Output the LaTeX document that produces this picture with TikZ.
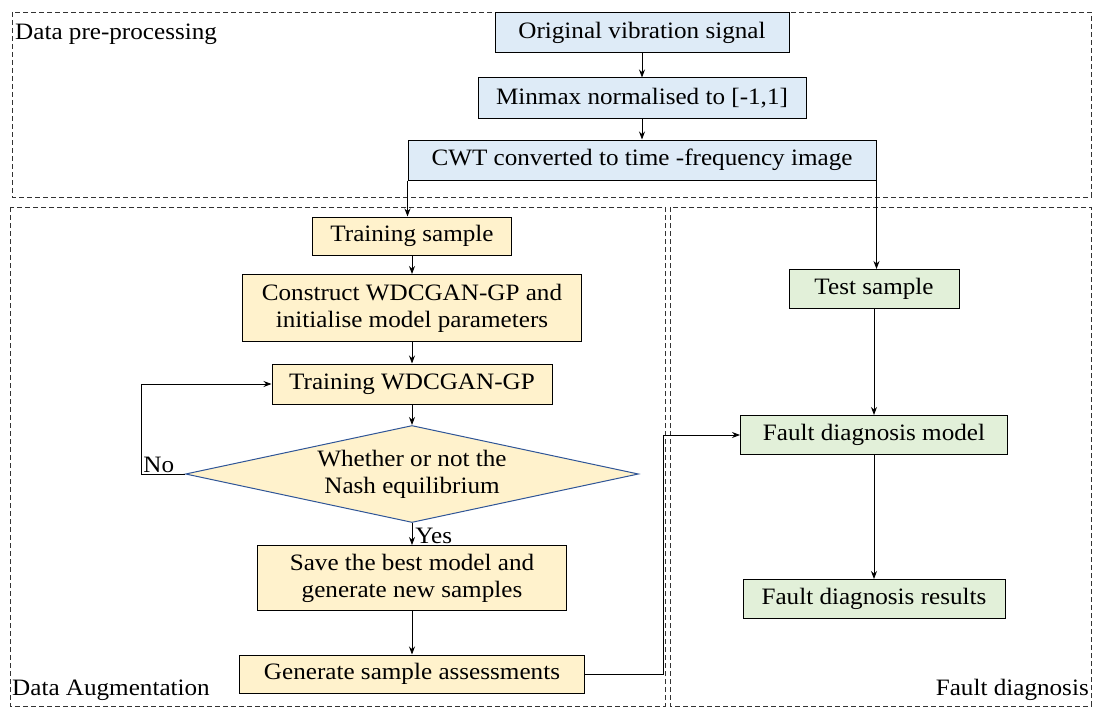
\documentclass[tikz,border=0pt]{standalone}
\usepackage{fontspec}
\setmainfont[FakeStretch=1.07]{Liberation Serif}
\usepackage{tikz}
\usetikzlibrary{positioning, shapes.geometric, calc, arrows.meta}
\definecolor{boxblue}{RGB}{222,235,247}
\definecolor{boxyellow}{RGB}{255,242,204}
\definecolor{boxgreen}{RGB}{226,240,217}
\definecolor{edgeblue}{RGB}{47,85,151}
\tikzstyle{blueproc} = [rectangle, minimum height=40pt, text centered, draw=black, fill=boxblue, line width=1pt]
\tikzstyle{yelproc} = [rectangle, minimum height=40pt, text centered, draw=black, fill=boxyellow, line width=1pt, align=center]
\tikzstyle{greenproc} = [rectangle, minimum height=39pt, text centered, draw=black, fill=boxgreen, line width=1pt]
\tikzstyle{decision} = [diamond, aspect=4.67, inner sep=0pt, text centered, draw=edgeblue, fill=boxyellow, line width=1pt, align=center]
\tikzstyle{region} = [draw=black!80, line width=0.9pt, dash pattern=on 5pt off 3pt]
\tikzstyle{arrow} = [-{Stealth[length=8pt,width=6pt]}, line width=0.9pt]
\tikzstyle{every node}=[font=\fontsize{23.5}{27}\selectfont, inner sep=4pt]

\begin{document}
\begin{tikzpicture}[x=1pt, y=-1pt, node distance=64pt]
  \useasboundingbox (0,0) rectangle (1093,709);
  % regions
  \draw [region] (12,12) rectangle (1091,197);
  \draw [region] (10,207) rectangle (665,706);
  \draw [region] (670,207) rectangle (1091,706);
  \node (lblpre) [anchor=west] at (11,34) {Data pre-processing};
  \node (lblaug) [anchor=west] at (8,690) {Data Augmentation};
  \node (lblfault) [anchor=east] at (1093,690) {Fault diagnosis};

  % pre-processing
  \node (orig) [blueproc, minimum width=294pt] at (642,33) {Original vibration signal};
  \node (minmax) [blueproc, below of=orig, yshift=-1pt, minimum width=328pt] {Minmax normalised to [-1,1]};
  \node (cwt) [blueproc, below of=minmax, yshift=2pt, minimum width=468pt] {CWT converted to time -frequency image};

  % augmentation
  \node (train) [yelproc, minimum width=199pt, minimum height=38pt] at (412,236) {Training sample};
  \node (build) [yelproc, below of=train, yshift=-8pt, minimum width=339pt, minimum height=67pt] {Construct WDCGAN-GP and\\initialise model parameters};
  \node (gan) [yelproc, below of=build, yshift=-12pt, minimum width=280pt] {Training WDCGAN-GP};
  \node (nash) [decision, below of=gan, yshift=-26pt, minimum width=453pt, minimum height=97pt] {Whether or not the\\Nash equilibrium};
  \node (save) [yelproc, below of=nash, yshift=-40pt, minimum width=309pt, minimum height=65pt] {Save the best model and\\generate new samples};
  \node (gen) [yelproc, below of=save, yshift=-32pt, minimum width=345pt, minimum height=38pt] {Generate sample assessments};

  % fault diagnosis
  \node (test) [greenproc, minimum width=170pt] at (874,289) {Test sample};
  \node (model) [greenproc, minimum width=267pt] at (874,435) {Fault diagnosis model};
  \node (result) [greenproc, minimum width=262pt] at (874,599) {Fault diagnosis results};

  % connections
  \draw [arrow](orig) -- (minmax);
  \draw [arrow](minmax) -- (cwt);
  \draw [arrow](cwt.south west) -- (cwt.south west |- train.north);
  \draw [arrow](cwt.south east) -- (cwt.south east |- test.north);

  \draw [arrow](train) -- (build);
  \draw [arrow](build) -- (gan);
  \draw [arrow](gan) -- (nash);
  \draw [arrow](nash) -- node[anchor=west, inner sep=3pt, yshift=-2pt] {Yes} (save);
  \draw [arrow](nash.west) -- node[anchor=south west, pos=1, inner sep=2pt, yshift=-1pt] {No} ++(-44,0) |- (gan.west);
  \draw [arrow](save) -- (gen);
  \draw [arrow](gen.east) -- ++(78,0) |- (model.west);

  \draw [arrow](test) -- (model);
  \draw [arrow](model) -- (result);
\end{tikzpicture}
\end{document}
